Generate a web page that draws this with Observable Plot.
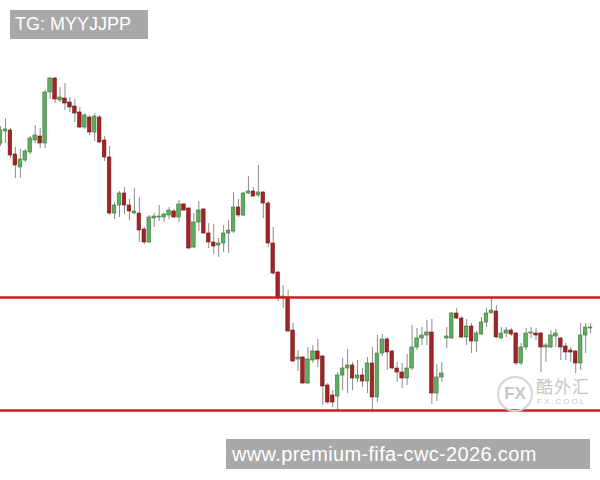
<!DOCTYPE html>
<html>
<head>
<meta charset="utf-8">
<script src="https://cdn.jsdelivr.net/npm/d3@7"></script>
<script src="https://cdn.jsdelivr.net/npm/@observablehq/plot@0.6"></script>
<style>
  html, body { margin: 0; padding: 0; background: #fff; }
  #wrap { position: relative; width: 600px; height: 480px; overflow: hidden; font-family: "Liberation Sans", Arial, sans-serif; }
  #wrap svg { position: absolute; left: 0; top: 0; }
  .tag { position: absolute; background: #a9a9a9; color: #fff; white-space: nowrap; box-sizing: border-box; }
  #tg { left: 10px; top: 10px; width: 138px; height: 29px; font-size: 18px; line-height: 29px; padding-left: 5px; }
  #wm { left: 226px; top: 439px; width: 364px; height: 30px; font-size: 20px; line-height: 30px; padding-left: 6px; letter-spacing: 0.35px; }
  #logo-circle { position: absolute; left: 497px; top: 376px; width: 32px; height: 32px; border: 2px solid #d4d4d4; border-radius: 50%; color: #c6c6c6; font-size: 17px; font-weight: bold; text-align: center; line-height: 32px; }
  #logo-cn { position: absolute; left: 536px; top: 376px; font-family: "Noto Sans CJK SC", sans-serif; font-size: 17px; color: #c6c6c6; line-height: 20px; letter-spacing: 1px; }
  #logo-en { position: absolute; left: 537px; top: 397px; font-size: 8px; color: #c6c6c6; letter-spacing: 2px; }
</style>
</head>
<body>
<div id="wrap">
  <div id="chart"></div>
  <div id="tg" class="tag">TG: MYYJJPP</div>
  <div id="logo-circle">FX</div>
  <div id="logo-cn">酷外汇</div>
  <div id="logo-en">FX.COOL</div>
  <div id="wm" class="tag">www.premium-fifa-cwc-2026.com</div>
</div>
<script>
// Candle prices (arbitrary price units), one entry per session
const opens = [357,369,370,346,333,340,348,360,364,357, 408,422,400,402,398,394,388,373,383,368,
  383,360,343,287,295,307,295,287,287,271, 258,282,283,283,285,289,283,296,292,253,
  278,291,267,258,255,257,267,269,293,285, 307,309,305,308,297,257,228,202,203,170,
  141,143,117,140,149,144,115,105,104,125, 132,135,122,125,119,137,103,147,161,149,
  132,128,122,132,153,162,165,168,107,123, 162,162,187,182,163,174,159,166,178,187,
  189,162,167,170,167,137,153,167,167,167, 153,153,164,162,154,150,149,137,165,172];
const closes = [370,371,345,335,341,349,362,365,357,408, 422,401,403,397,393,387,373,385,368,384,
  358,343,287,295,307,295,289,289,270,258, 283,284,284,286,290,283,296,290,252,278,
  290,267,258,254,257,267,270,293,285,307, 309,304,308,297,257,227,202,204,169,139,
  143,117,141,149,141,114,98,98,125,132, 135,122,125,119,137,103,147,161,148,132,
  128,122,132,153,162,165,168,107,123,127, 164,187,182,163,174,159,167,178,187,190,
  163,167,170,166,137,153,167,168,165,153, 155,165,167,153,148,148,137,165,173,173];
const highs = [374,382,372,353,351,351,364,375,372,410, 423,423,413,417,403,401,393,387,385,387,
  385,364,354,298,309,313,301,312,303,273, 285,287,295,287,293,291,300,297,293,287,
  299,292,277,276,262,275,280,308,301,308, 324,313,335,309,299,273,229,215,210,177,
  150,144,153,155,161,145,117,110,128,142, 151,138,140,132,143,153,165,166,163,150,
  138,137,146,175,172,173,180,181,136,138, 173,188,192,184,181,177,169,183,192,203,
  195,173,173,172,168,157,172,173,172,168, 157,170,171,163,157,153,150,177,177,177];
const lows = [354,357,342,322,322,338,346,357,352,352, 401,397,398,390,388,378,372,371,365,359,
  357,339,285,281,283,286,280,286,258,256, 257,273,279,278,281,282,278,289,251,252,
  269,266,252,246,243,248,247,267,283,284, 306,303,303,282,253,225,199,192,168,138,
  129,116,116,137,133,95,96,93,89,110, 107,110,118,113,107,88,98,144,130,131,
  118,112,115,130,150,155,155,96,99,118, 152,161,181,162,155,147,148,165,173,187,
  162,161,163,164,135,135,150,162,160,128, 138,152,153,140,140,138,127,130,147,167];
// Horizontal support / resistance levels
const levels = [203, 90];

const candles = opens.map((o, i) => ({
  i, open: o, close: closes[i], high: highs[i], low: lows[i], up: closes[i] >= o
}));

const chart = Plot.plot({
  width: 600,
  height: 480,
  margin: 0,
  x: { type: "linear", domain: [0, 121], axis: null },
  y: { domain: [20, 500], axis: null },
  marks: [
    Plot.ruleX(candles, { x: "i", y1: "low", y2: "high", stroke: "#8c8c8c", strokeWidth: 1 }),
    Plot.rect(candles, {
      x1: d => d.i - 0.36, x2: d => d.i + 0.36,
      y1: "open", y2: "close",
      fill: d => d.up ? "#5fae5f" : "#a32424",
      stroke: d => d.up ? "#3d743d" : "#741616",
      strokeWidth: 0.6
    }),
    Plot.ruleY(levels, { stroke: "#cc1f1f", strokeWidth: 2.5 })
  ]
});
document.getElementById("chart").appendChild(chart);
</script>
</body>
</html>
